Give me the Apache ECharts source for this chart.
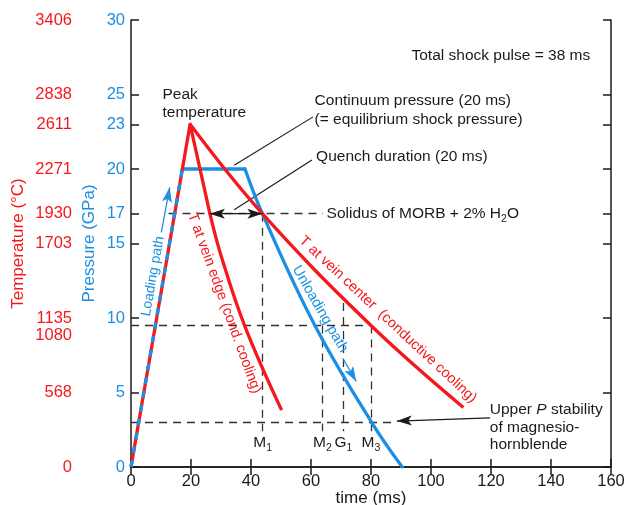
<!DOCTYPE html>
<html>
<head>
<meta charset="UTF-8">
<title>Shock pulse</title>
<script src="https://cdn.jsdelivr.net/npm/echarts@6/dist/echarts.min.js"></script>
<style>
  html, body { margin: 0; padding: 0; background: #fff; }
  #main { width: 625px; height: 505px; }
</style>
</head>
<body>
<div id="main"></div>
<script>
// axes
var pressTicks = [0, 5, 10, 15, 17, 20, 23, 25, 30];
var tempLabels = ['0', '568', '1080', '1135', '1703', '1930', '2271', '2611', '2838', '3406'];
// pressure at which each temperature label sits (1080 = 9.5 GPa, nudged below 1135)
var tempLabelPos = [0, 5, 8.8, 10, 15, 17, 20, 23, 25, 30];

// curves [time ms, pressure GPa]
var loadingPath = [[0, 0], [17.1, 20]];
var plateau = [[17.1, 20], [38, 20]];
var unloadingPath = [[38, 20], [43.8, 17], [61.3, 9.5], [80.2, 3], [90.4, 0]];
var tempRise = [[0, 0], [19.7, 23]];
// first segment straight from the peak, then a smooth cooling curve
var tempEdge = [[19.7, 23], [26.3, 17], [30, 14.2], [38, 9.42], [50.2, 3.82]];
var tempCenter = [[19.7, 23], [43.8, 17], [80, 9.5], [110.8, 4.0]];

// dashed guides
var guides = [
  [[12.5, 17], [64, 17]],
  [[0, 9.5], [80, 9.5]],
  [[0, 3], [87, 3]],
  [[43.9, 17], [43.9, 2.4]],
  [[63.8, 9.5], [63.8, 2.4]],
  [[70.8, 11], [70.8, 2.4]],
  [[80, 9.5], [80, 2.4]]
];
var leaders = [
  [[34.4, 20.25], [60.7, 23.5]],
  [[34.4, 17.27], [60.3, 20.6]]
];
// arrows: heads at 'to' (both = heads at both ends)
var arrows = [
  {from: [10.1, 15.75], to: [12.9, 18.77], color: 'blue'},
  {from: [70.6, 7.3], to: [75.1, 5.74], color: 'blue'},
  {from: [26.3, 17], to: [43.8, 17], color: 'ink', both: true},
  {from: [119.7, 3.3], to: [88.6, 3.08], color: 'ink'}
];
var markers = [['M', '1', 43.9], ['M', '2', 63.8], ['G', '1', 70.8], ['M', '3', 80]];

var FONT = '"Liberation Sans", Arial, Helvetica, sans-serif';
var BLUE = '#1c8ee3', RED = '#f5181c', INK = '#1a1a1a', DASH = '#333';

var chart = echarts.init(document.getElementById('main'));

function tempFmt(v) {
  for (var i = 0; i < tempLabelPos.length; i++) {
    if (Math.abs(tempLabelPos[i] - v) < 1e-6) return tempLabels[i];
  }
  return '';
}

var frameLine = {lineStyle: {color: INK, width: 1.5}};
var frameTick = {inside: true, length: 8, lineStyle: {color: INK, width: 1.5}};

var option = {
  animation: false,
  grid: {left: 131, right: 14, top: 20, bottom: 38, outerBoundsMode: 'none'},
  xAxis: [{
    type: 'value', min: 0, max: 160, interval: 20, position: 'bottom',
    name: 'time (ms)', nameLocation: 'middle', nameGap: 23, nameMoveOverlap: false,
    nameTextStyle: {fontSize: 17, color: INK, fontFamily: FONT},
    axisLine: frameLine, axisTick: frameTick,
    axisLabel: {fontSize: 16.5, color: INK, margin: 6, fontFamily: FONT},
    splitLine: {show: false}
  }, {
    type: 'value', min: 0, max: 160, interval: 20, position: 'top',
    axisLine: frameLine, axisTick: frameTick,
    axisLabel: {show: false}, splitLine: {show: false}
  }],
  yAxis: [{
    type: 'value', min: 0, max: 30, position: 'left',
    name: 'Pressure (GPa)', nameLocation: 'middle', nameGap: 33, nameMoveOverlap: false,
    nameTextStyle: {fontSize: 17, color: BLUE, fontFamily: FONT},
    axisLine: frameLine,
    axisTick: {inside: true, length: 8, customValues: pressTicks, lineStyle: {color: INK, width: 1.5}},
    axisLabel: {customValues: pressTicks, fontSize: 16.5, color: BLUE, margin: 6, fontFamily: FONT},
    splitLine: {show: false}
  }, {
    type: 'value', min: 0, max: 30, position: 'left', offset: 0,
    name: 'Temperature (°C)', nameLocation: 'middle', nameGap: 104, nameMoveOverlap: false,
    nameTextStyle: {fontSize: 17, color: RED, fontFamily: FONT},
    axisLine: {show: false}, axisTick: {show: false},
    axisLabel: {customValues: tempLabelPos, formatter: tempFmt, fontSize: 16.5, color: RED, margin: 59, fontFamily: FONT},
    splitLine: {show: false}
  }, {
    type: 'value', min: 0, max: 30, position: 'right',
    axisLine: frameLine,
    axisTick: {inside: true, length: 8, customValues: pressTicks, lineStyle: {color: INK, width: 1.5}},
    axisLabel: {show: false}, splitLine: {show: false}
  }],
  series: [
    {type: 'lines', coordinateSystem: 'cartesian2d', silent: true, z: 1,
      data: guides.map(function (g) { return {coords: g}; }),
      lineStyle: {color: DASH, width: 1.3, type: [8, 6], opacity: 1}},
    {type: 'lines', coordinateSystem: 'cartesian2d', silent: true, z: 1,
      data: leaders.map(function (g) { return {coords: g}; }),
      lineStyle: {color: INK, width: 1.1, opacity: 1}},
    {type: 'line', data: plateau, showSymbol: false, silent: true, z: 2,
      lineStyle: {color: BLUE, width: 3.3, cap: 'round'}},
    {type: 'line', data: unloadingPath, smooth: 0.4, showSymbol: false, silent: true, z: 2,
      lineStyle: {color: BLUE, width: 3.3, cap: 'round'}},
    {type: 'line', data: tempRise, showSymbol: false, silent: true, z: 3,
      lineStyle: {color: RED, width: 3.3}},
    {type: 'line', data: tempEdge.slice(0, 2), showSymbol: false, silent: true, z: 3,
      lineStyle: {color: RED, width: 3.3, cap: 'round'}},
    {type: 'line', data: tempEdge.slice(1), smooth: 0.4, showSymbol: false, silent: true, z: 3,
      lineStyle: {color: RED, width: 3.3}},
    {type: 'line', data: tempCenter, smooth: 0.4, showSymbol: false, silent: true, z: 3,
      lineStyle: {color: RED, width: 3.3}},
    {type: 'line', data: loadingPath, showSymbol: false, silent: true, z: 4,
      lineStyle: {color: BLUE, width: 3.3, type: [7, 7], cap: 'butt'}}
  ]
};
chart.setOption(option);

// ---- annotations, placed in data coordinates ----
function px(p) { return chart.convertToPixel({xAxisIndex: 0, yAxisIndex: 0}, p); }

function head(tip, from, len, half, notch) {
  var dx = tip[0] - from[0], dy = tip[1] - from[1];
  var d = Math.sqrt(dx * dx + dy * dy);
  var ux = dx / d, uy = dy / d, nx = -uy, ny = ux;
  var bx = tip[0] - ux * len, by = tip[1] - uy * len;
  return [tip, [bx + nx * half, by + ny * half],
    [tip[0] - ux * (len - notch), tip[1] - uy * (len - notch)],
    [bx - nx * half, by - ny * half]];
}

var els = [];
arrows.forEach(function (a) {
  var c = a.color === 'blue' ? BLUE : INK;
  var p0 = px(a.from), p1 = px(a.to);
  els.push({type: 'line', shape: {x1: p0[0], y1: p0[1], x2: p1[0], y2: p1[1]},
    style: {stroke: c, lineWidth: a.color === 'blue' ? 1.3 : 1.2}, z: 10});
  els.push({type: 'polygon', shape: {points: head(p1, p0, 15, 5, 3.5)}, style: {fill: c}, z: 11});
  if (a.both) els.push({type: 'polygon', shape: {points: head(p0, p1, 15, 5, 3.5)}, style: {fill: c}, z: 11});
});

function note(text, at, opts) {
  var p = px(at);
  var o = opts || {};
  els.push({
    type: 'text', x: p[0], y: p[1], rotation: (o.rot || 0) * Math.PI / 180, z: 12,
    style: {
      text: text, fill: o.color || INK, fontSize: o.size || 15.5, fontFamily: FONT,
      align: o.align || 'left', verticalAlign: 'middle', lineHeight: o.lh, rich: o.rich
    }
  });
}

note('Total shock pulse = 38 ms', [93.5, 27.6]);
note('Continuum pressure (20 ms)\n(= equilibrium shock pressure)', [61.2, 23.93], {lh: 18.6});
note('Quench duration (20 ms)', [61.7, 20.85]);
note('{n|Solidus of MORB + 2% H}{s|2}{n|O}', [65.2, 17.0], {rich: {
  n: {fontSize: 15.5, fontFamily: FONT, fill: INK, lineHeight: 22},
  s: {fontSize: 10.5, fontFamily: FONT, fill: INK, lineHeight: 11, verticalAlign: 'bottom'}
}});
note('Peak\ntemperature', [10.5, 24.4], {lh: 18.3});
note('{n|Upper }{i|P}{n| stability}\n{n|of magnesio-}\n{n|hornblende}', [119.6, 2.64], {rich: {
  n: {fontSize: 15.5, fontFamily: FONT, fill: INK, lineHeight: 17.5},
  i: {fontSize: 15.5, fontFamily: FONT, fill: INK, lineHeight: 17.5, fontStyle: 'italic'}
}});
markers.forEach(function (m) {
  note('{a|' + m[0] + '}{b|' + m[1] + '}', [m[2], 1.66], {align: 'center', rich: {
    a: {fontSize: 15.5, fontFamily: FONT, fill: INK, lineHeight: 22},
    b: {fontSize: 10.5, fontFamily: FONT, fill: INK, lineHeight: 11, verticalAlign: 'bottom'}
  }});
});

note('Loading path', [7.3, 12.8], {rot: 80, color: BLUE, size: 14, align: 'center'});
note('T at vein edge (cond. cooling)', [31.1, 11.0], {rot: -70, color: RED, size: 14.5, align: 'center'});
note('Unloading path', [63.0, 10.6], {rot: -60, color: BLUE, size: 14.5, align: 'center'});
note('T at vein center  (conductive cooling)', [85.6, 9.9], {rot: -43, color: RED, size: 14.5, align: 'center'});

chart.setOption({graphic: els});
</script>
</body>
</html>
